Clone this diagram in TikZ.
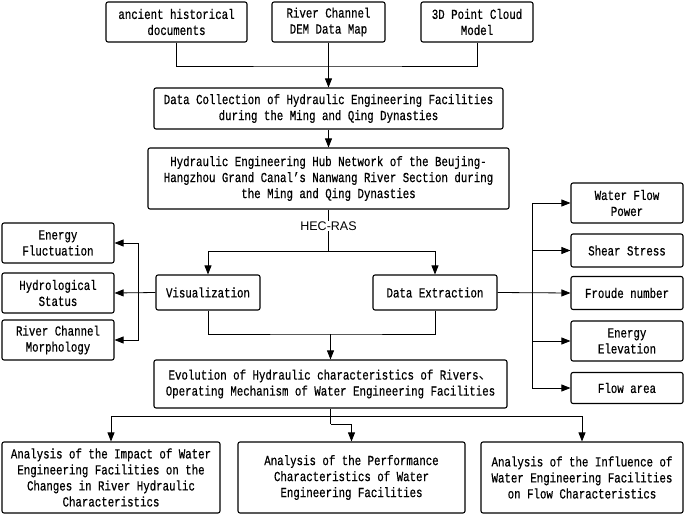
\documentclass[tikz,border=0pt]{standalone}
\usepackage{fontspec}
\setmainfont[FakeStretch=0.78,FakeBold=0.6]{Liberation Mono}
\newfontfamily\cjkfont{Noto Sans CJK SC}
\newfontfamily\labfont{Liberation Sans}
\usetikzlibrary{arrows.meta}
\begin{document}
\begin{tikzpicture}[x=1pt,y=-1pt,
  box/.style={draw,line width=1.1pt,rounded corners=2pt,align=center,inner sep=0pt,
    font=\fontsize{13.8}{16}\selectfont},
  ln/.style={line width=0.8pt},
  arr/.style={line width=0.8pt,-{Triangle[length=9pt,width=7pt]}}]
\useasboundingbox (0,0) rectangle (685,516);
% top sources
\node[box,minimum width=141pt,minimum height=40pt] (a1) at (176.5,22) {ancient historical\\documents};
\node[box,minimum width=113pt,minimum height=40pt] (a2) at (328.5,22) {River Channel\\DEM Data Map};
\node[box,minimum width=112pt,minimum height=40pt] (a3) at (477,22) {3D Point Cloud\\Model};
\node[box,minimum width=349pt,minimum height=41pt] (b) at (328.5,108.5) {Data Collection of Hydraulic Engineering Facilities\\during the Ming and Qing Dynasties};
\node[box,minimum width=361pt,minimum height=61pt] (c) at (328.5,178.5) {Hydraulic Engineering Hub Network of the Beujing-\\Hangzhou Grand Canal's Nanwang River Section during\\the Ming and Qing Dynasties};
\node[box,minimum width=104pt,minimum height=35pt] (vis) at (208,292.5) {Visualization};
\node[box,minimum width=124pt,minimum height=35pt] (dex) at (435,292.5) {Data Extraction};
% left outputs
\node[box,minimum width=112pt,minimum height=40pt] (L1) at (58,243) {Energy\\Fluctuation};
\node[box,minimum width=112pt,minimum height=40pt] (L2) at (58,293) {Hydrological\\Status};
\node[box,minimum width=112pt,minimum height=40pt] (L3) at (58,340) {River Channel\\Morphology};
% right outputs
\node[box,minimum width=112pt,minimum height=40pt] (R1) at (627,203) {Water Flow\\Power};
\node[box,minimum width=112pt,minimum height=33pt] (R2) at (627,250.5) {Shear Stress};
\node[box,minimum width=112pt,minimum height=33pt] (R3) at (627,293) {Froude number};
\node[box,minimum width=112pt,minimum height=40pt] (R4) at (627,341) {Energy\\Elevation};
\node[box,minimum width=112pt,minimum height=31pt] (R5) at (627,388) {Flow area};
% evolution
\node[box,minimum width=353pt,minimum height=48pt] (ev) at (330.5,384) {Evolution of Hydraulic characteristics of Rivers{\cjkfont 、}\\Operating Mechanism of Water Engineering Facilities};
% bottom
\node[box,minimum width=218pt,minimum height=71pt] (B1) at (111,477.5) {Analysis of the Impact of Water\\Engineering Facilities on the\\Changes in River Hydraulic\\Characteristics};
\node[box,minimum width=227pt,minimum height=71pt] (B2) at (351.5,477.5) {Analysis of the Performance\\Characteristics of Water\\Engineering Facilities};
\node[box,minimum width=202pt,minimum height=71pt] (B3) at (582,477.5) {Analysis of the Influence of\\Water Engineering Facilities\\on Flow Characteristics};
% connectors top
\coordinate (j1) at (328.5,66);
\draw[ln] (a1.south) |- (j1) -| (a3.south);
\draw[arr] (a2.south) -- (b.north);
\draw[arr] (b.south) -- (c.north);
% HEC-RAS
\coordinate (j2) at (328.5,251);
\draw[ln] (c.south) -- (j2);
\node[fill=white,inner sep=1pt,font=\labfont\fontsize{12.5}{14}\selectfont] (hec) at (328.5,226) {HEC-RAS};
\draw[arr] (j2) -| (vis.north);
\draw[arr] (j2) -| (dex.north);
% left
\coordinate (lv) at (138,293);
\draw[arr] (vis.west) -- (L2.east);
\draw[arr] (lv) |- (L1.east);
\draw[arr] (lv) |- (L3.east);
% right
\coordinate (rv) at (532,293);
\draw[arr] (dex.east) -- (R3.west);
\draw[arr] (rv) |- (R1.west);
\draw[arr] (rv) |- (R2.west);
\draw[arr] (rv) |- (R4.west);
\draw[arr] (rv) |- (R5.west);
% merge
\coordinate (j3) at (330.5,334);
\draw[ln] (vis.south) |- (j3) -| (dex.south);
\draw[arr] (j3) -- (ev.north);
% bottom split
\coordinate (j4) at (330.5,416);
\coordinate (j5) at (330.5,424);
\draw[ln] (ev.south) -- (j5);
\draw[arr] (j4) -| (B1.north);
\draw[arr] (j4) -| (B3.north);
\draw[arr] (j5) -| (B2.north);
\end{tikzpicture}
\end{document}
